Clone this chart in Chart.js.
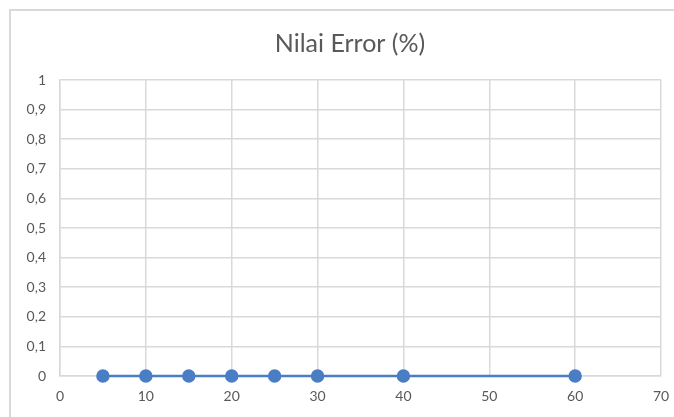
<!DOCTYPE html>
<html>
<head>
<meta charset="utf-8">
<script src="https://cdn.jsdelivr.net/npm/chart.js@4.4.0/dist/chart.umd.min.js"></script>
<style>
	body { margin: 0; background: #fff; overflow: hidden; }
	#box { position: absolute; left: 0; top: 0; width: 674px; height: 417px; overflow: hidden; }
	#frame { position: absolute; left: 9px; top: 9px; width: 700px; height: 450px; border-left: 2px solid #d9d9d9; border-top: 2px solid #d9d9d9; }
	canvas { position: absolute; left: 0; top: 0; }
</style>
</head>
<body>
<div id="box">
	<div id="frame"></div>
	<canvas id="chart" width="674" height="417"></canvas>
</div>
<script>
var judul   = 'Nilai Error (%)';
var xValues = [5, 10, 15, 20, 25, 30, 40, 60];
var yValues = [0, 0, 0, 0, 0, 0, 0, 0];

var puntos = xValues.map(function(x, i){ return { x: x, y: yValues[i] }; });
var gris = '#595959';
var azul = '#4a7ec4';
var fuente = 'Lato, "Open Sans", sans-serif';

// titulo dibujado a mano, centrado como en excel
var tituloPlugin = {
	id : 'tituloExcel',
	afterDraw : function(chart){
		var ctx = chart.ctx;
		ctx.save();
		ctx.fillStyle = gris;
		ctx.font = '25px ' + fuente;
		ctx.textAlign = 'center';
		ctx.textBaseline = 'middle';
		ctx.fillText(judul, 350, 44);
		ctx.restore();
	}
};

new Chart(document.getElementById('chart'), {
	type : 'scatter',
	data : {
		datasets : [
			{
				label : judul,
				data : puntos,
				showLine : true,
				borderColor : azul,
				backgroundColor : azul,
				borderWidth : 2.5,
				pointRadius : 5.5,
				pointHoverRadius : 5.5,
				clip : false
			}
		]
	},
	plugins : [tituloPlugin],
	options : {
		responsive : false,
		animation : false,
		layout : { padding : { left: 0, right: 13, top: 80, bottom: 0 } },
		plugins : {
			legend : { display : false },
			tooltip : { enabled : false },
			title : { display : false }
		},
		scales : {
			x : {
				min : 0, max : 70,
				ticks : { stepSize : 10, color : gris, padding : 12, font : { family : fuente, size : 14 } },
				grid : { color : '#d9d9d9', lineWidth : 1.5, drawTicks : false },
				border : { color : '#d9d9d9', width : 1.5 },
				afterFit : function(s){ s.height = 41; s.paddingLeft = 0; s.paddingRight = 0; }
			},
			y : {
				min : 0, max : 1,
				ticks : {
					stepSize : 0.1, color : gris, padding : 14,
					font : { family : fuente, size : 14 },
					callback : function(v){ return Number(v.toFixed(1)).toString().replace('.', ','); }
				},
				grid : { color : '#d9d9d9', lineWidth : 1.5, drawTicks : false },
				border : { color : '#d9d9d9', width : 1.5 },
				afterFit : function(s){ s.width = 60; s.paddingTop = 0; s.paddingBottom = 0; }
			}
		}
	}
});
</script>
</body>
</html>
